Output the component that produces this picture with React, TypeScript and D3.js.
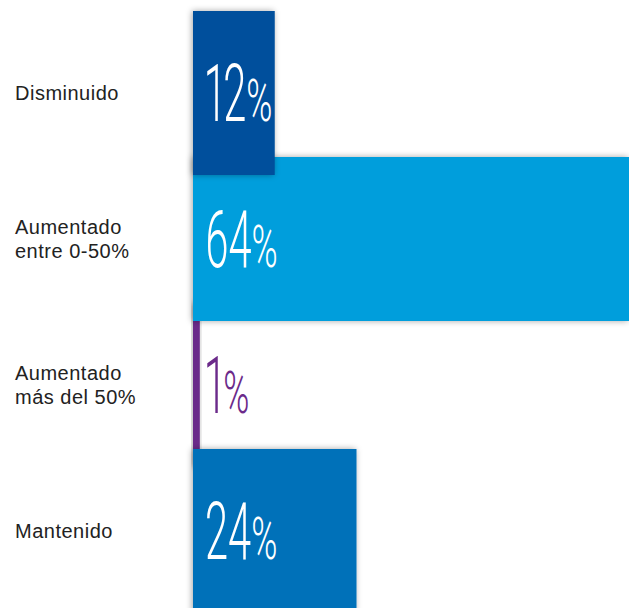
import React, { useEffect, useRef } from 'react';
import * as d3 from 'd3';

const categories = ['Disminuido', 'Aumentado entre 0-50%', 'Aumentado más del 50%', 'Mantenido'];
const labelLines = [['Disminuido'], ['Aumentado', 'entre 0-50%'], ['Aumentado', 'más del 50%'], ['Mantenido']];
const values = [12, 64, 1, 24];
const colors = ['#004f9c', '#009edc', '#6b2a8a', '#0071b9'];
// which bars sit on top of which (first drawn = lowest)
const drawOrder = [2, 3, 1, 0];

const W = 629;
const H = 608;

export default function App() {
  const svgRef = useRef<SVGSVGElement>(null);

  useEffect(() => {
    if (!svgRef.current) return;
    const svg = d3.select(svgRef.current);
    svg.selectAll('*').remove();

    const x = d3.scaleLinear().domain([0, 64]).range([193, 629]);
    const y = d3.scaleBand<string>().domain(categories).range([20, 604]).padding(0);
    const barH = 164;

    const defs = svg.append('defs');
    const f = defs.append('filter').attr('id', 'sh')
      .attr('x', '-20%').attr('y', '-20%').attr('width', '140%').attr('height', '140%');
    f.append('feDropShadow')
      .attr('dx', -1).attr('dy', 0).attr('stdDeviation', 3)
      .attr('flood-color', '#000').attr('flood-opacity', 0.35);

    const bars = svg.append('g');
    drawOrder.forEach(i => {
      const cy = y(categories[i])! + y.bandwidth() / 2;
      bars.append('rect')
        .attr('x', x(0))
        .attr('y', cy - barH / 2)
        .attr('width', x(values[i]) - x(0))
        .attr('height', barH)
        .attr('fill', colors[i])
        .attr('filter', 'url(#sh)');
    });

    // value labels: condensed light digits + a slightly wider percent sign
    categories.forEach((c, i) => {
      const cy = y(c)! + y.bandwidth() / 2;
      const fill = values[i] < 5 ? colors[i] : '#fff';
      const num = svg.append('text')
        .attr('transform', `translate(205,${cy + 28}) scale(0.52,1)`)
        .style('font-family', 'Roboto, "DejaVu Sans", sans-serif')
        .style('font-weight', 300)
        .style('font-size', '80px')
        .style('font-variant-numeric', 'proportional-nums')
        .style('fill', fill)
        .text(values[i]);
      const w = (num.node() as SVGTextElement).getComputedTextLength() * 0.52;
      svg.append('text')
        .attr('transform', `translate(${205 + w},${cy + 28}) scale(0.6,1)`)
        .style('font-family', 'Roboto, "DejaVu Sans", sans-serif')
        .style('font-weight', 300)
        .style('font-size', '59px')
        .style('fill', fill)
        .text('%');
    });

    // category labels
    categories.forEach((c, i) => {
      const cy = y(c)! + y.bandwidth() / 2;
      const lines = labelLines[i];
      const t = svg.append('text')
        .attr('x', 15)
        .attr('y', lines.length === 1 ? cy + 7 : cy - 5)
        .style('font-family', '"Liberation Sans", Arial, sans-serif')
        .style('font-size', '20px')
        .style('letter-spacing', '0.5px')
        .style('fill', '#222');
      lines.forEach((l, k) => {
        t.append('tspan').attr('x', 15).attr('dy', k === 0 ? 0 : 24).text(l);
      });
    });
  }, []);

  return (
    <svg
      ref={svgRef}
      width={W}
      height={H}
      style={{ position: 'absolute', left: 0, top: 0, background: '#fff' }}
    />
  );
}
